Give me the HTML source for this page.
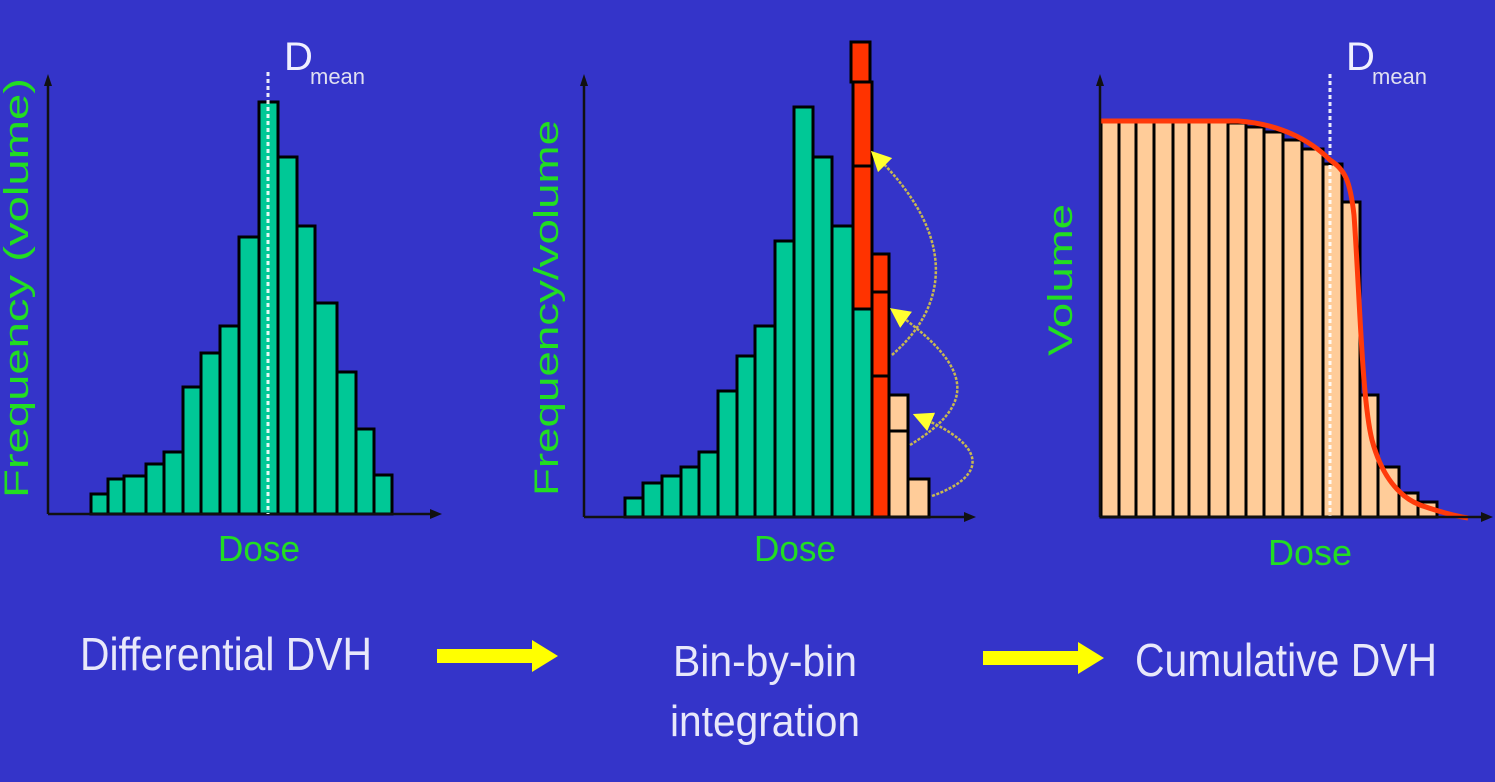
<!DOCTYPE html>
<html><head><meta charset="utf-8"><style>
html,body{margin:0;padding:0;background:#3434c9;}
svg{display:block;}
text{font-family:"Liberation Sans",Arial,sans-serif;}
</style></head><body>
<svg width="1495" height="782" viewBox="0 0 1495 782" xmlns="http://www.w3.org/2000/svg">
<rect width="1495" height="782" fill="#3434c9"/>
<defs>
<marker id="ah" markerWidth="8" markerHeight="8" refX="4" refY="4" orient="auto"><path d="M0,0 L8,4 L0,8 z" fill="#ffff30"/></marker>
</defs>

<!-- Panel 1 -->
<g stroke="#000" stroke-width="3" fill="#00c896">
<rect x="91" y="494" width="17" height="20"/>
<rect x="108" y="479" width="16" height="35"/>
<rect x="124" y="476" width="22" height="38"/>
<rect x="146" y="464" width="18" height="50"/>
<rect x="164" y="452" width="19" height="62"/>
<rect x="183" y="387" width="18" height="127"/>
<rect x="201" y="353" width="19" height="161"/>
<rect x="220" y="326" width="19" height="188"/>
<rect x="239" y="237" width="20" height="277"/>
<rect x="259" y="102" width="19" height="412"/>
<rect x="278" y="157" width="19" height="357"/>
<rect x="297" y="226" width="18" height="288"/>
<rect x="315" y="303" width="22" height="211"/>
<rect x="337" y="372" width="19" height="142"/>
<rect x="356" y="429" width="18" height="85"/>
<rect x="374" y="475" width="18" height="39"/>
</g>
<line x1="48" y1="78" x2="48" y2="514" stroke="#111" stroke-width="2.5"/>
<path d="M44,86 L48,74 L52,86z" fill="#111"/>
<line x1="48" y1="514" x2="438" y2="514" stroke="#111" stroke-width="2.5"/>
<path d="M430,509 L442,514 L430,519z" fill="#111"/>
<line x1="268" y1="72" x2="268" y2="514" stroke="#fff" stroke-width="3" stroke-dasharray="4,3" opacity="0.9"/>
<text x="284" y="70" font-size="40" fill="#f0f0ff">D</text>
<text x="310" y="84" font-size="22" fill="#e0e0f0">mean</text>
<text transform="translate(28,288) rotate(-90)" text-anchor="middle" font-size="34" fill="#22dd22" textLength="420" lengthAdjust="spacingAndGlyphs">Frequency (volume)</text>
<text x="218" y="561" font-size="36" fill="#22dd22" textLength="82" lengthAdjust="spacingAndGlyphs">Dose</text>

<!-- Panel 2 -->
<g stroke="#000" stroke-width="3" fill="#00c896">
<rect x="625" y="498" width="18" height="19"/>
<rect x="643" y="483" width="19" height="34"/>
<rect x="662" y="476" width="19" height="41"/>
<rect x="681" y="467" width="18" height="50"/>
<rect x="699" y="452" width="19" height="65"/>
<rect x="718" y="391" width="19" height="126"/>
<rect x="737" y="356" width="18" height="161"/>
<rect x="755" y="326" width="20" height="191"/>
<rect x="775" y="241" width="19" height="276"/>
<rect x="794" y="107" width="19" height="410"/>
<rect x="813" y="157" width="19" height="360"/>
<rect x="832" y="226" width="21" height="291"/>
<rect x="853" y="309" width="19" height="208"/>
</g>
<g stroke="#000" stroke-width="3" fill="#ff3300">
<rect x="853" y="166" width="19" height="143"/>
<rect x="853" y="82" width="19" height="84"/>
<rect x="851" y="42" width="19" height="40"/>
<rect x="872" y="376" width="17" height="141"/>
<rect x="872" y="292" width="17" height="84"/>
<rect x="872" y="254" width="17" height="38"/>
</g>
<g stroke="#000" stroke-width="3" fill="#ffcc99">
<rect x="889" y="431" width="19" height="86"/>
<rect x="889" y="395" width="19" height="36"/>
<rect x="908" y="479" width="21" height="38"/>
</g>
<g fill="none" stroke="#c8b850" stroke-width="2.5" stroke-dasharray="3,1.5">
<path d="M932,496 C990,475 985,445 922,418" marker-end="url(#ah)"/>
<path d="M910,445 C975,405 975,370 898,314" marker-end="url(#ah)"/>
<path d="M892,355 C955,300 950,230 878,158" marker-end="url(#ah)"/>
</g>
<line x1="584" y1="78" x2="584" y2="517" stroke="#111" stroke-width="2.5"/>
<path d="M580,86 L584,74 L588,86z" fill="#111"/>
<line x1="584" y1="517" x2="972" y2="517" stroke="#111" stroke-width="2.5"/>
<path d="M964,512 L976,517 L964,522z" fill="#111"/>
<text transform="translate(558,308) rotate(-90)" text-anchor="middle" font-size="34" fill="#22dd22" textLength="376" lengthAdjust="spacingAndGlyphs">Frequency/volume</text>
<text x="754" y="561" font-size="36" fill="#22dd22" textLength="82" lengthAdjust="spacingAndGlyphs">Dose</text>

<!-- Panel 3 -->
<g stroke="#000" stroke-width="3" fill="#ffcc99">
<rect x="1101" y="121" width="18" height="396"/>
<rect x="1119" y="121" width="17" height="396"/>
<rect x="1136" y="121" width="18" height="396"/>
<rect x="1154" y="121" width="19" height="396"/>
<rect x="1173" y="121" width="16" height="396"/>
<rect x="1189" y="121" width="20" height="396"/>
<rect x="1209" y="121" width="19" height="396"/>
<rect x="1228" y="123" width="18" height="394"/>
<rect x="1246" y="127" width="18" height="390"/>
<rect x="1264" y="132" width="19" height="385"/>
<rect x="1283" y="140" width="19" height="377"/>
<rect x="1302" y="149" width="21" height="368"/>
<rect x="1323" y="164" width="19" height="353"/>
<rect x="1342" y="202" width="18" height="315"/>
<rect x="1360" y="395" width="18" height="122"/>
<rect x="1378" y="467" width="21" height="50"/>
<rect x="1399" y="493" width="19" height="24"/>
<rect x="1418" y="502" width="19" height="15"/>
</g>
<line x1="1330" y1="74" x2="1330" y2="517" stroke="#fff" stroke-width="3" stroke-dasharray="4,3" opacity="0.9"/>
<path d="M1100,121 L1238,121 C1280,124 1310,140 1330,160 C1345,170 1350,180 1354,215 C1360,300 1362,400 1372,440 C1380,470 1395,495 1420,505 C1440,512 1455,516 1468,518" fill="none" stroke="#ff3a0a" stroke-width="5"/>
<line x1="1100" y1="78" x2="1100" y2="517" stroke="#111" stroke-width="2.5"/>
<path d="M1096,86 L1100,74 L1104,86z" fill="#111"/>
<line x1="1100" y1="517" x2="1488" y2="517" stroke="#111" stroke-width="2.5"/>
<path d="M1481,512 L1493,517 L1481,522z" fill="#111"/>
<text x="1346" y="70" font-size="40" fill="#f0f0ff">D</text>
<text x="1372" y="84" font-size="22" fill="#e0e0f0">mean</text>
<text transform="translate(1072,280) rotate(-90)" text-anchor="middle" font-size="34" fill="#22dd22" textLength="152" lengthAdjust="spacingAndGlyphs">Volume</text>
<text x="1268" y="565" font-size="36" fill="#22dd22" textLength="84" lengthAdjust="spacingAndGlyphs">Dose</text>

<!-- Bottom labels -->
<text x="80" y="670" font-size="46" fill="#e8e8fa" textLength="292" lengthAdjust="spacingAndGlyphs">Differential DVH</text>
<path d="M437,649 L532,649 L532,640 L558,656 L532,672 L532,663 L437,663z" fill="#ffff00"/>
<text x="765" y="676" font-size="44" fill="#e8e8fa" text-anchor="middle" textLength="184" lengthAdjust="spacingAndGlyphs">Bin-by-bin</text>
<text x="765" y="736" font-size="44" fill="#e8e8fa" text-anchor="middle" textLength="190" lengthAdjust="spacingAndGlyphs">integration</text>
<path d="M983,651 L1078,651 L1078,642 L1104,658 L1078,674 L1078,665 L983,665z" fill="#ffff00"/>
<text x="1135" y="676" font-size="46" fill="#e8e8fa" textLength="302" lengthAdjust="spacingAndGlyphs">Cumulative DVH</text>
</svg>
</body></html>
